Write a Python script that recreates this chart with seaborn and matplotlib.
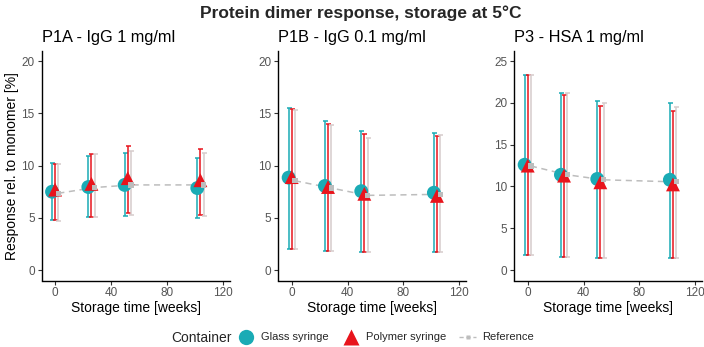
import numpy as np
import pandas as pd
import matplotlib
matplotlib.use("Agg")
import matplotlib.pyplot as plt
from matplotlib.lines import Line2D
import seaborn as sns

# ---------------- data ----------------
weeks = [0, 26, 52, 104]
containers = ["Glass syringe", "Polymer syringe", "Reference"]
panel_titles = ["P1A - IgG 1 mg/ml", "P1B - IgG 0.1 mg/ml", "P3 - HSA 1 mg/ml"]

p1a_glass_mean = [7.5, 7.95, 8.15, 7.85]
p1a_glass_lo = [4.75, 5.05, 5.2, 4.95]
p1a_glass_hi = [10.25, 10.9, 11.2, 10.7]
p1a_poly_mean = [7.7, 8.25, 8.8, 8.6]
p1a_poly_lo = [4.75, 5.1, 5.45, 5.3]
p1a_poly_hi = [10.2, 11.1, 11.9, 11.6]
p1a_ref_mean = [7.35, 7.9, 8.15, 8.15]
p1a_ref_lo = [4.7, 5.1, 5.3, 5.2]
p1a_ref_hi = [10.2, 11.1, 11.35, 11.2]

p1b_glass_mean = [8.85, 8.05, 7.55, 7.4]
p1b_glass_lo = [2.0, 1.85, 1.75, 1.72]
p1b_glass_hi = [15.5, 14.25, 13.35, 13.1]
p1b_poly_mean = [8.9, 7.95, 7.3, 7.1]
p1b_poly_lo = [2.0, 1.8, 1.7, 1.7]
p1b_poly_hi = [15.45, 13.95, 13.0, 12.8]
p1b_ref_mean = [8.55, 7.85, 7.15, 7.25]
p1b_ref_lo = [2.0, 1.8, 1.75, 1.75]
p1b_ref_hi = [15.3, 13.9, 12.65, 12.9]

p3_glass_mean = [12.6, 11.4, 10.9, 10.8]
p3_glass_lo = [1.75, 1.6, 1.5, 1.47]
p3_glass_hi = [23.4, 21.15, 20.25, 20.05]
p3_poly_mean = [12.5, 11.3, 10.5, 10.25]
p3_poly_lo = [1.75, 1.6, 1.5, 1.45]
p3_poly_hi = [23.35, 21.0, 19.6, 19.05]
p3_ref_mean = [12.45, 11.4, 10.8, 10.55]
p3_ref_lo = [1.75, 1.6, 1.5, 1.5]
p3_ref_hi = [23.3, 21.15, 20.0, 19.5]

y_ticks_12 = [0, 5, 10, 15, 20]
y_ticks_3 = [0, 5, 10, 15, 20, 25]
x_ticks = [0, 40, 80, 120]

# ---------------- build table ----------------
panels = [
    (p1a_glass_mean, p1a_glass_lo, p1a_glass_hi, p1a_poly_mean, p1a_poly_lo, p1a_poly_hi,
     p1a_ref_mean, p1a_ref_lo, p1a_ref_hi),
    (p1b_glass_mean, p1b_glass_lo, p1b_glass_hi, p1b_poly_mean, p1b_poly_lo, p1b_poly_hi,
     p1b_ref_mean, p1b_ref_lo, p1b_ref_hi),
    (p3_glass_mean, p3_glass_lo, p3_glass_hi, p3_poly_mean, p3_poly_lo, p3_poly_hi,
     p3_ref_mean, p3_ref_lo, p3_ref_hi),
]
dodge = {"Glass syringe": -2.2, "Polymer syringe": 0.0, "Reference": 2.3}
rows = []
for pi, vals in enumerate(panels):
    for ci, c in enumerate(containers):
        m, lo, hi = vals[3 * ci], vals[3 * ci + 1], vals[3 * ci + 2]
        for w, mm, l, h in zip(weeks, m, lo, hi):
            rows.append(dict(panel=panel_titles[pi], container=c, week=w,
                             x=w + dodge[c], mean=mm, lo=l, hi=h))
df = pd.DataFrame(rows)

# ---------------- style ----------------
sns.set_theme(style="ticks")
plt.rcParams["font.family"] = ["Liberation Sans", "DejaVu Sans"]

colors = {"Glass syringe": "#1AABB5", "Polymer syringe": "#E8141C", "Reference": "#BDBDBD"}
err_colors = {"Glass syringe": "#1AABB5", "Polymer syringe": "#E8141C", "Reference": "#D6CCCC"}
markers = {"Glass syringe": "o", "Polymer syringe": "^", "Reference": "s"}
msizes = {"Glass syringe": 100, "Polymer syringe": 100, "Reference": 14}

fig = plt.figure(figsize=(7.04, 3.47), dpi=100)
lefts = [41.7 / 704, 278.3 / 704, 514.3 / 704]
W = 188 / 704
bottom = 1 - 280.5 / 347
H = (280.5 - 50.7) / 347

for pi, title in enumerate(panel_titles):
    ax = fig.add_axes([lefts[pi], bottom, W, H])
    sub = df[df.panel == title]
    # error bars
    for c in containers:
        s = sub[sub.container == c]
        ax.errorbar(s["x"], s["mean"],
                    yerr=[s["mean"] - s["lo"], s["hi"] - s["mean"]],
                    fmt="none", ecolor=err_colors[c], elinewidth=1.1,
                    capsize=1.8, capthick=1.1, zorder=1)
    # reference dashed line
    ref = sub[sub.container == "Reference"]
    sns.lineplot(data=ref, x="x", y="mean", ax=ax, color=colors["Reference"],
                 lw=1.1, linestyle=(0, (4, 3)), zorder=2, legend=False)
    # points
    for zi, c in enumerate(containers):
        s = sub[sub.container == c]
        sns.scatterplot(data=s, x="x", y="mean", ax=ax, marker=markers[c],
                        s=msizes[c], color=colors[c], edgecolor="none",
                        linewidth=0, zorder=3 + zi, legend=False)
    ax.set_xlim(-9.6, 125.0)
    if pi < 2:
        ax.set_ylim(-1, 21)
        ax.set_yticks(y_ticks_12)
    else:
        ax.set_ylim(-1.25, 26.25)
        ax.set_yticks(y_ticks_3)
    ax.set_xticks(x_ticks)
    ax.tick_params(axis="both", labelsize=8.5, labelcolor="#555555", color="#333333",
                   length=3, width=0.8, pad=2)
    for sp in ["top", "right"]:
        ax.spines[sp].set_visible(False)
    for sp in ["left", "bottom"]:
        ax.spines[sp].set_color("black")
        ax.spines[sp].set_linewidth(1.0)
    ax.set_xlabel("Storage time [weeks]", fontsize=10, color="black", labelpad=1)
    if pi == 0:
        ax.set_ylabel("Response rel. to monomer [%]", fontsize=10, color="black", labelpad=2)
    else:
        ax.set_ylabel("")
    ax.set_title(title, loc="left", fontsize=11.8, pad=6, color="black")

fig.suptitle("Protein dimer response, storage at 5°C", x=0.513, y=0.985,
             fontsize=12.5, fontweight="bold")

# legend
handles = [
    Line2D([], [], marker="o", color="none", markerfacecolor=colors["Glass syringe"],
           markeredgecolor="none", markersize=11),
    Line2D([], [], marker="^", color="none", markerfacecolor=colors["Polymer syringe"],
           markeredgecolor="none", markersize=11),
    Line2D([], [], marker="s", color=colors["Reference"], lw=1.0, linestyle=(0, (3, 2)),
           markerfacecolor=colors["Reference"], markeredgecolor="none", markersize=3.5),
]
fig.text(171.7 / 704, 1 - 337.5 / 347, "Container", fontsize=10, va="center", ha="left")
fig.legend(handles, containers, loc="center left", bbox_to_anchor=(238 / 704, 1 - 337.5 / 347),
           ncol=3, frameon=False, fontsize=8, handlelength=1.5, handletextpad=0.6,
           columnspacing=1.2, borderaxespad=0, borderpad=0)

fig.savefig("out.png", dpi=100)
